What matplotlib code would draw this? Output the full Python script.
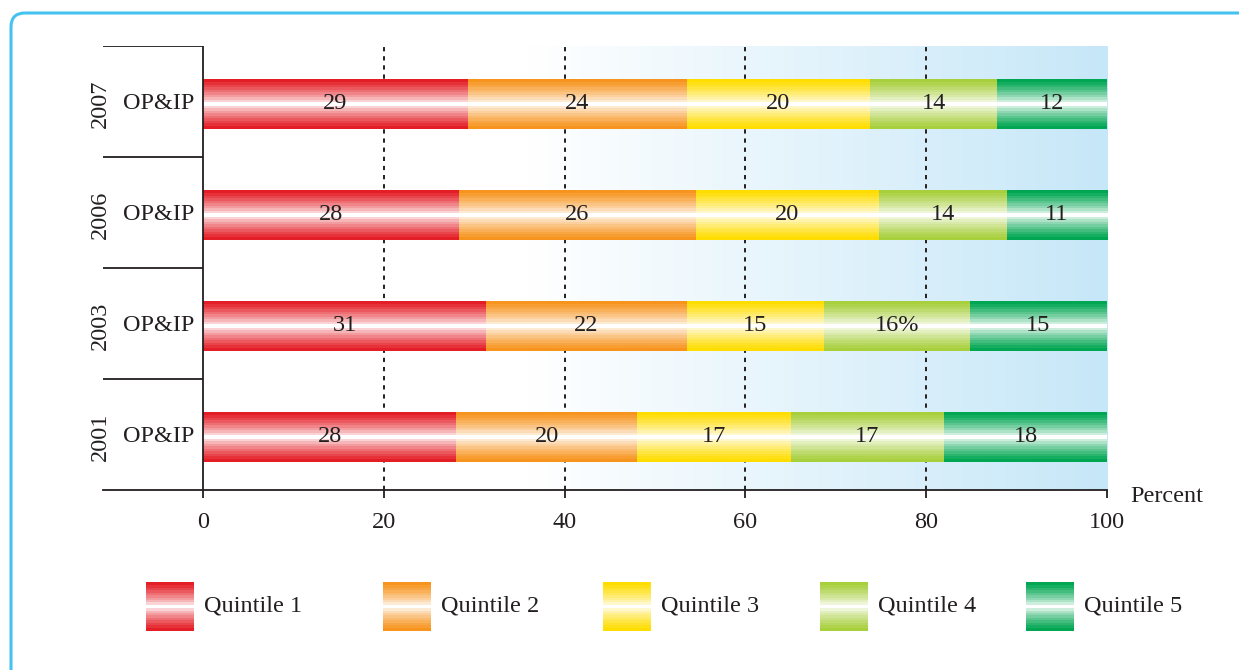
import numpy as np
import matplotlib
matplotlib.use("Agg")
import matplotlib.pyplot as plt
from matplotlib.colors import to_rgb
from matplotlib.patches import FancyBboxPatch

plt.rcParams['font.family'] = ['Liberation Serif', 'DejaVu Serif']

# ---- data -------------------------------------------------------------
years = ["2001", "2003", "2006", "2007"]
row_label = "OP&IP"
quintiles = ["Quintile 1", "Quintile 2", "Quintile 3", "Quintile 4", "Quintile 5"]
q1 = [28, 31, 28, 29]
q2 = [20, 22, 26, 24]
q3 = [17, 15, 20, 20]
q4 = [17, 16, 14, 14]
q5 = [18, 15, 11, 12]
value_text = [
    ["28", "20", "17", "17", "18"],
    ["31", "22", "15", "16%", "15"],
    ["28", "26", "20", "14", "11"],
    ["29", "24", "20", "14", "12"],
]
x_ticks = [0, 20, 40, 60, 80, 100]
colors = ["#e41e26", "#f7941e", "#ffdd00", "#a8cf3c", "#00a651"]

TEXT = "#231f20"
FS = 17.5


def stripe(color, n=60, levels=9):
    """Vertical colour ramp: full colour at the edges, white band in the middle."""
    s = np.linspace(-1, 1, n)
    t = np.abs(s)
    w = np.clip((t - 0.06) / 0.94, 0, 1)
    w = np.ceil(w * levels) / levels
    w = w ** 0.75
    c = np.array(to_rgb(color))
    img = (1 - w)[:, None] * np.ones(3)[None, :] + w[:, None] * c[None, :]
    return img[:, None, :]


W, H = 1239, 670
fig = plt.figure(figsize=(W / 100, H / 100), dpi=100)

# ---- frame + legend layer (pixel coordinates) -------------------------
ov = fig.add_axes([0, 0, 1, 1])
ov.set_xlim(0, W)
ov.set_ylim(H, 0)
ov.axis("off")
ov.add_patch(FancyBboxPatch((11, 13), W + 40, H + 40,
                            boxstyle="round,pad=0,rounding_size=14",
                            fill=False, ec="#45c2f0", lw=2.2))

leg_x = [146, 383, 603, 820, 1026]
for i, name in enumerate(quintiles):
    x0 = leg_x[i]
    ov.imshow(stripe(colors[i]), extent=(x0, x0 + 48, 631, 582),
              aspect="auto", interpolation="nearest", zorder=2)
    ov.text(x0 + 58, 606, name, fontsize=FS, color=TEXT, va="center", ha="left")

# ---- main chart -------------------------------------------------------
x_left = -11.06
ax = fig.add_axes([103 / W, 1 - 490 / H, (1107 - 103) / W, (490 - 46) / H])
ax.set_facecolor("none")

# background ramp from white to pale blue
grad_x = np.linspace(0, 100, 400)
a = np.clip((grad_x - 36) / 64, 0, 1)
blue = np.array(to_rgb("#c6e7f8"))
bg = (1 - a)[:, None] * np.ones(3) + a[:, None] * blue
ax.imshow(bg[None, :, :], extent=(0, 100, -0.5, 3.5), aspect="auto",
          interpolation="bilinear", zorder=0)

# dotted gridlines
for g in x_ticks[1:-1]:
    ax.plot([g, g], [-0.5, 3.5], color="#231f20", lw=1.4,
            linestyle=(0, (2.2, 2.5)), zorder=1)

data = np.array([q1, q2, q3, q4, q5], dtype=float).T
bar_h = 0.445
y_off = 0.022
for r in range(len(years)):
    vals = data[r] / data[r].sum() * 100
    yc = r - y_off
    left = 0.0
    for j, v in enumerate(vals):
        ax.imshow(stripe(colors[j]), extent=(left, left + v, yc - bar_h / 2, yc + bar_h / 2),
                  aspect="auto", interpolation="nearest", zorder=3)
        ax.text(left + v / 2, yc, value_text[r][j], ha="center", va="center",
                fontsize=FS, color=TEXT, zorder=4)
        left += v
    ax.text(-4.95, yc, row_label, ha="center", va="center", fontsize=FS, color=TEXT)
    ax.text(-11.4, yc, years[r], ha="center", va="center", rotation=90,
            fontsize=FS, color=TEXT, clip_on=False)

# category frame lines
for yb in [0.5, 1.5, 2.5, 3.5]:
    ax.plot([x_left, 0], [yb, yb], color="#231f20", lw=1.3, zorder=5,
            solid_capstyle="butt")
ax.plot([0, 0], [-0.5, 3.5], color="#231f20", lw=1.3, zorder=5)

ax.set_xlim(x_left, 100)
ax.set_ylim(-0.5, 3.5)
for side in ["top", "right", "left"]:
    ax.spines[side].set_visible(False)
ax.spines["bottom"].set_color("#231f20")
ax.spines["bottom"].set_linewidth(1.3)
ax.set_yticks([])
ax.set_xticks(x_ticks)
ax.set_xticklabels([str(t) for t in x_ticks])
ax.tick_params(axis="x", direction="out", length=6, width=1.3, color="#231f20",
               pad=10, labelsize=FS, labelcolor=TEXT)
ax.text(102.6, -0.56, "Percent", ha="left", va="center", fontsize=FS,
        color=TEXT, clip_on=False)

fig.savefig("out.png", dpi=100)
